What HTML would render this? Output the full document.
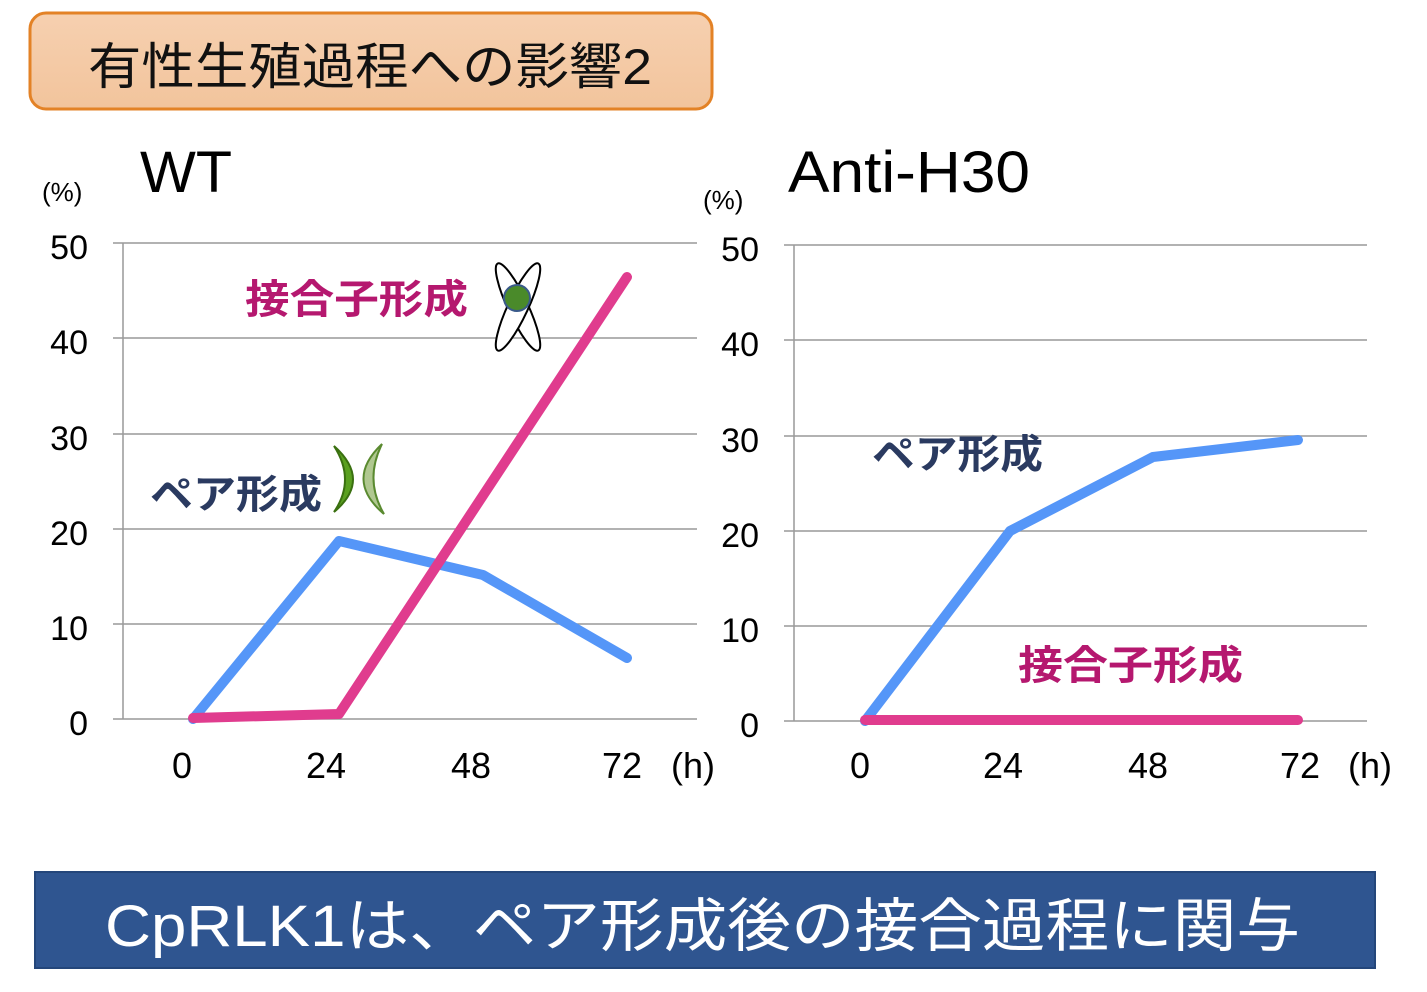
<!DOCTYPE html>
<html><head><meta charset="utf-8"><style>
body{margin:0;width:1427px;height:987px;background:#fff;overflow:hidden}
svg text{font-family:"Liberation Sans","Noto Sans CJK JP",sans-serif}
</style></head><body>
<svg width="1427" height="987" viewBox="0 0 1427 987">
<defs><linearGradient id="tb" x1="0" y1="0" x2="0" y2="1"><stop offset="0" stop-color="#f6d0b0"/><stop offset="1" stop-color="#f2c49c"/></linearGradient></defs>
<rect x="30" y="13" width="682" height="96" rx="16" fill="url(#tb)" stroke="#e38226" stroke-width="3"/>
<text x="88" y="84" font-size="50" fill="#111" textLength="564" lengthAdjust="spacingAndGlyphs">有性生殖過程への影響2</text>

<!-- WT -->
<text x="140" y="192" font-size="58" fill="#000" textLength="92" lengthAdjust="spacingAndGlyphs">WT</text>
<text x="42" y="201" font-size="26" fill="#000">(%)</text>
<g stroke="#999" stroke-width="1.5">
<line x1="113" y1="243" x2="697" y2="243"/><line x1="113" y1="338" x2="697" y2="338"/>
<line x1="113" y1="434" x2="697" y2="434"/><line x1="113" y1="529" x2="697" y2="529"/>
<line x1="113" y1="624" x2="697" y2="624"/><line x1="113" y1="719" x2="697" y2="719"/>
<line x1="123" y1="243" x2="123" y2="719"/></g>
<g font-size="34" text-anchor="end" fill="#000">
<text x="88" y="259">50</text><text x="88" y="354">40</text><text x="88" y="450">30</text>
<text x="88" y="545">20</text><text x="88" y="640">10</text><text x="88" y="735">0</text></g>
<g font-size="36" text-anchor="middle" fill="#000">
<text x="182" y="778">0</text><text x="326" y="778">24</text><text x="471" y="778">48</text><text x="622" y="778">72</text><text x="693" y="778">(h)</text></g>
<polyline points="193,719 339,541 483,575 627,658" fill="none" stroke="#5596f8" stroke-width="10" stroke-linejoin="round" stroke-linecap="round"/>
<polyline points="193,718 339,714 627,277" fill="none" stroke="#e03c8e" stroke-width="10" stroke-linejoin="round" stroke-linecap="round"/>
<text x="245" y="313" font-size="40" font-weight="bold" fill="#b5186f" textLength="223" lengthAdjust="spacingAndGlyphs">接合子形成</text>
<text x="150" y="508" font-size="40" font-weight="bold" fill="#2a3a60" textLength="172" lengthAdjust="spacingAndGlyphs">ペア形成</text>
<!-- X icon -->
<g fill="none" stroke="#000" stroke-width="2">
<ellipse cx="518" cy="307" rx="10" ry="48" transform="rotate(-25 518 307)" fill="#fff"/>
<ellipse cx="518" cy="307" rx="10" ry="48" transform="rotate(25 518 307)" fill="#fff"/></g>
<circle cx="517" cy="298" r="13" fill="#4a8a2a" stroke="#3a5a8a" stroke-width="2"/>
<!-- crescents -->
<path d="M334,446 Q372,480 334,512 Q356,480 334,446Z" fill="#5aa020" stroke="#3a7010" stroke-width="2"/>
<path d="M382,444 Q344,480 384,514 Q364,480 382,444Z" fill="#b0c890" stroke="#5a8a30" stroke-width="2"/>

<!-- Anti-H30 -->
<text x="788" y="192" font-size="58" fill="#000" textLength="242" lengthAdjust="spacingAndGlyphs">Anti-H30</text>
<text x="703" y="209" font-size="26" fill="#000">(%)</text>
<g stroke="#999" stroke-width="1.5">
<line x1="784" y1="245" x2="1367" y2="245"/><line x1="784" y1="340" x2="1367" y2="340"/>
<line x1="784" y1="436" x2="1367" y2="436"/><line x1="784" y1="531" x2="1367" y2="531"/>
<line x1="784" y1="626" x2="1367" y2="626"/><line x1="784" y1="721" x2="1367" y2="721"/>
<line x1="794" y1="245" x2="794" y2="721"/></g>
<g font-size="34" text-anchor="end" fill="#000">
<text x="759" y="261">50</text><text x="759" y="356">40</text><text x="759" y="452">30</text>
<text x="759" y="547">20</text><text x="759" y="642">10</text><text x="759" y="737">0</text></g>
<g font-size="36" text-anchor="middle" fill="#000">
<text x="860" y="778">0</text><text x="1003" y="778">24</text><text x="1148" y="778">48</text><text x="1300" y="778">72</text><text x="1370" y="778">(h)</text></g>
<polyline points="865,721 1010,531 1153,457 1298,440" fill="none" stroke="#5596f8" stroke-width="10" stroke-linejoin="round" stroke-linecap="round"/>
<polyline points="865,720 1298,720" fill="none" stroke="#e03c8e" stroke-width="10" stroke-linecap="round"/>
<text x="872" y="468" font-size="40" font-weight="bold" fill="#2a3a60" textLength="171" lengthAdjust="spacingAndGlyphs">ペア形成</text>
<text x="1018" y="679" font-size="40" font-weight="bold" fill="#b5186f" textLength="225" lengthAdjust="spacingAndGlyphs">接合子形成</text>

<rect x="35" y="872" width="1340" height="96" fill="#2f5590" stroke="#24467a" stroke-width="2"/>
<text x="105" y="946" font-size="58" fill="#fff" textLength="1195" lengthAdjust="spacingAndGlyphs">CpRLK1は、ペア形成後の接合過程に関与</text>
</svg>
</body></html>
